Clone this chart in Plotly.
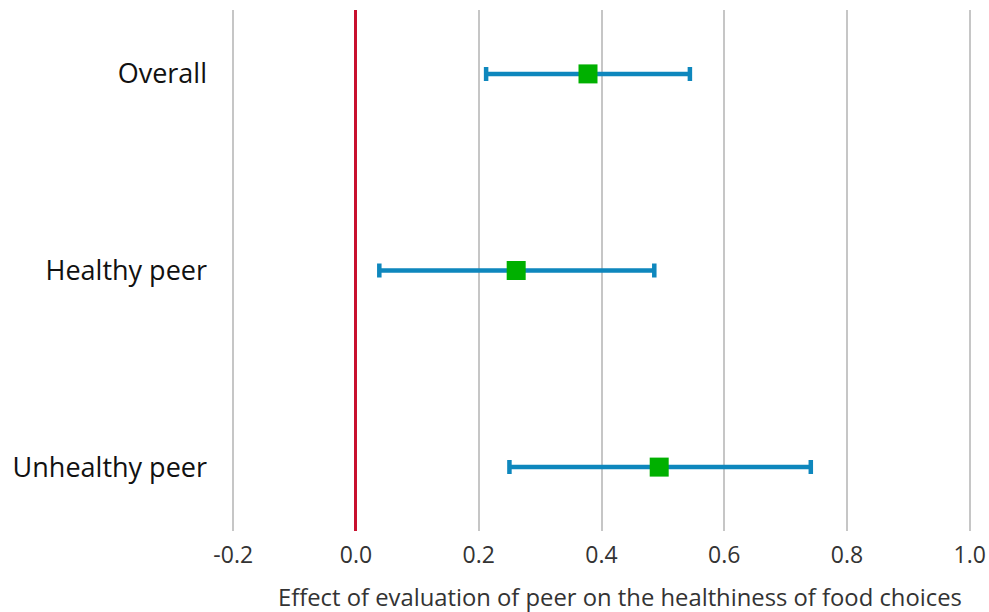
import plotly.graph_objects as go

categories = ["Overall", "Healthy peer", "Unhealthy peer"]
estimates = [0.378, 0.261, 0.494]
lower = [0.212, 0.038, 0.250]
upper = [0.544, 0.486, 0.741]

x_ticks = [-0.2, 0.0, 0.2, 0.4, 0.6, 0.8, 1.0]
x_ticklabels = ["-0.2", "0.0", "0.2", "0.4", "0.6", "0.8", "1.0"]
x_title = "Effect of evaluation of peer on the healthiness of food choices"

ypos = list(range(len(categories)))
err_plus = [u - e for u, e in zip(upper, estimates)]
err_minus = [e - l for e, l in zip(estimates, lower)]

FONT = "Open Sans, Noto Sans, sans-serif"

fig = go.Figure()
fig.add_trace(go.Scatter(
    x=estimates, y=ypos, mode="markers",
    marker=dict(symbol="square", size=19, color="#00b000"),
    error_x=dict(type="data", symmetric=False, array=err_plus, arrayminus=err_minus,
                 color="#0e87bd", thickness=4.5, width=7),
    showlegend=False,
))

fig.add_annotation(
    text=x_title, xref="paper", yref="paper", x=0.525, y=-0.127,
    xanchor="center", yanchor="middle", showarrow=False,
    font=dict(size=23.8, color="#333", family=FONT),
)

fig.update_layout(
    width=989, height=612,
    margin=dict(l=232, r=18, t=10, b=81, autoexpand=False),
    plot_bgcolor="white", paper_bgcolor="white",
    font=dict(family=FONT, color="#222"),
    xaxis=dict(
        range=[-0.202, 1.002], tickvals=x_ticks, ticktext=x_ticklabels,
        showgrid=True, gridcolor="#c6c6c6", gridwidth=1.5,
        zeroline=True, zerolinecolor="#c8102e", zerolinewidth=2.5,
        showline=False, ticks="", ticklen=0, automargin=False,
        tickfont=dict(size=23, color="#333"), ticklabelstandoff=8,
    ),
    yaxis=dict(
        range=[2.325, -0.325], tickvals=ypos, ticktext=categories,
        showgrid=False, zeroline=False, showline=False, ticks="", automargin=False,
        tickfont=dict(size=27, color="#111"), ticklabelstandoff=24,
    ),
)

fig.write_html("out.html", config={"displayModeBar": False},
               post_script="document.body.style.margin='0';document.body.style.overflow='hidden';")
